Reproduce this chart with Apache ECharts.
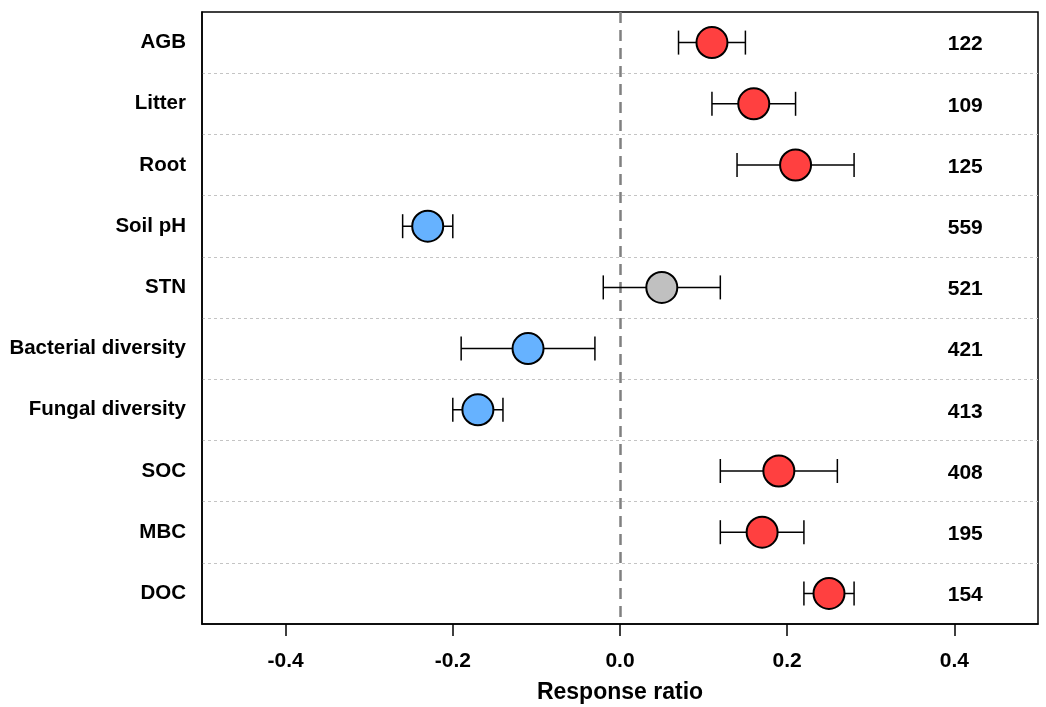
<!DOCTYPE html>
<html>
<head>
<meta charset="utf-8">
<script src="https://cdn.jsdelivr.net/npm/echarts@6/dist/echarts.min.js"></script>
<style>html,body{margin:0;padding:0;background:#fff;}#c{width:1046px;height:707px;}</style>
</head>
<body>
<div id="c"></div>
<script>
const categories = ['AGB','Litter','Root','Soil pH','STN','Bacterial diversity','Fungal diversity','SOC','MBC','DOC'];
const means = [0.11, 0.16, 0.21, -0.23, 0.05, -0.11, -0.17, 0.19, 0.17, 0.25];
const lower = [0.07, 0.11, 0.14, -0.26, -0.02, -0.19, -0.20, 0.12, 0.12, 0.22];
const upper = [0.15, 0.21, 0.28, -0.20, 0.12, -0.03, -0.14, 0.26, 0.22, 0.28];
const counts = [122, 109, 125, 559, 521, 421, 413, 408, 195, 154];
const effect = ['pos','pos','pos','neg','ns','neg','neg','pos','pos','pos'];
const tickValues = [-0.4, -0.2, 0.0, 0.2, 0.4];

const colorMap = {pos: '#FF4040', neg: '#66B2FF', ns: '#C0C0C0'};
const COUNT_X = 0.413;
const FONT = 'Liberation Sans, Arial, sans-serif';

const chart = echarts.init(document.getElementById('c'), null, {renderer: 'canvas'});

const option = {
  animation: false,
  backgroundColor: '#fff',
  grid: {left: 202, right: 8, top: 12, bottom: 83, show: true, borderColor: '#000', borderWidth: 1.5,
    backgroundColor: 'transparent', outerBoundsMode: 'none', containLabel: false},
  xAxis: {
    type: 'value', min: -0.5, max: 0.5,
    name: 'Response ratio', nameLocation: 'middle', nameGap: 57,
    nameTextStyle: {fontFamily: FONT, fontWeight: 'bold', fontSize: 23, color: '#000'},
    axisLine: {show: true, onZero: false, lineStyle: {color: '#000', width: 1.5}},
    axisTick: {show: true, length: 12, inside: false, customValues: tickValues, lineStyle: {color: '#000', width: 1.5}},
    axisLabel: {customValues: tickValues, margin: 27, fontFamily: FONT, fontWeight: 'bold', fontSize: 21, color: '#000',
      formatter: v => v.toFixed(1)},
    splitLine: {show: false}
  },
  yAxis: {
    type: 'category', data: categories, inverse: true, boundaryGap: true,
    axisLine: {show: true, onZero: false, lineStyle: {color: '#000', width: 1.5}},
    axisTick: {show: false},
    axisLabel: {margin: 16, padding: [4, 0, 0, 0], fontFamily: FONT, fontWeight: 'bold', fontSize: 20.5, color: '#000'},
    splitLine: {show: true, showMinLine: false, showMaxLine: false, lineStyle: {color: '#c4c4c4', type: [3, 3], width: 1}}
  },
  series: [
    {
      type: 'custom',
      name: 'ci',
      data: categories.map((c, i) => [i, lower[i], upper[i]]),
      encode: {x: [1, 2], y: 0},
      z: 2,
      renderItem: function (params, api) {
        const idx = api.value(0);
        const p1 = api.coord([api.value(1), idx]);
        const p2 = api.coord([api.value(2), idx]);
        const h = 12;
        const st = {stroke: '#000', lineWidth: 1.5};
        return {type: 'group', children: [
          {type: 'line', shape: {x1: p1[0], y1: p1[1], x2: p2[0], y2: p2[1]}, style: st},
          {type: 'line', shape: {x1: p1[0], y1: p1[1] - h, x2: p1[0], y2: p1[1] + h}, style: st},
          {type: 'line', shape: {x1: p2[0], y1: p2[1] - h, x2: p2[0], y2: p2[1] + h}, style: st}
        ]};
      }
    },
    {
      type: 'scatter',
      name: 'mean',
      z: 3,
      symbol: 'circle',
      symbolSize: 31,
      data: categories.map((c, i) => ({value: [means[i], c], itemStyle: {color: colorMap[effect[i]]}})),
      itemStyle: {borderColor: '#000', borderWidth: 2, opacity: 1},
      markLine: {
        silent: true, symbol: 'none', z: 1,
        label: {show: false},
        lineStyle: {color: '#808080', width: 2.5, type: [11, 7]},
        data: [{xAxis: 0}]
      }
    },
    {
      type: 'custom',
      name: 'n',
      data: categories.map((c, i) => [i, counts[i]]),
      encode: {y: 0},
      z: 4,
      renderItem: function (params, api) {
        const idx = api.value(0);
        const p = api.coord([COUNT_X, idx]);
        return {type: 'text', x: p[0], y: p[1] + 2, style: {
          text: String(api.value(1)), fontFamily: FONT, fontWeight: 'bold', fontSize: 21,
          fill: '#000', align: 'center', verticalAlign: 'middle'}};
      }
    }
  ]
};
chart.setOption(option);
</script>
</body>
</html>
